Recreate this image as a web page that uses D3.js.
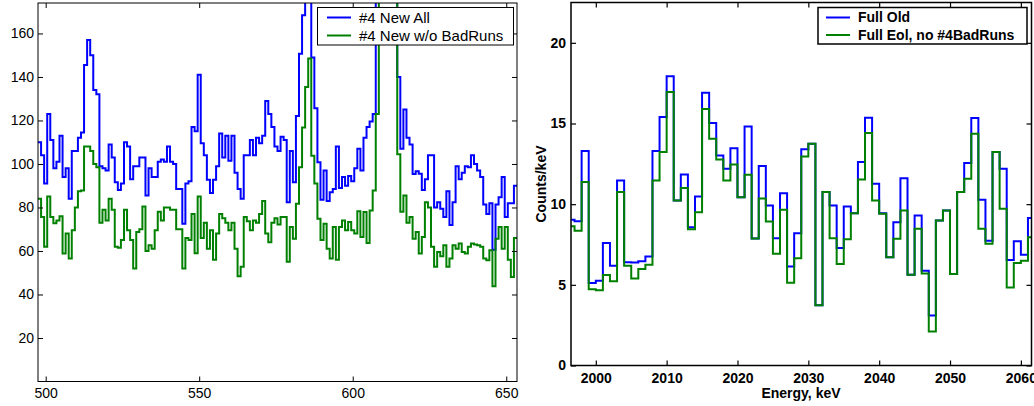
<!DOCTYPE html>
<html>
<head>
<meta charset="utf-8">
<script src="https://cdn.jsdelivr.net/npm/d3@7"></script>
<style>
  body { margin: 0; background: #fff; }
  svg { display: block; }
</style>
</head>
<body>
<svg id="chart" width="1034" height="406"></svg>
<script>
// ---- Left panel: 1 keV bins, first bin centred at 498 keV ----
const leftFirstCentre = 498;
const leftAll = [
  110, 104, 91, 123, 111, 98, 101, 113, 94, 98,
  84, 106, 106, 112, 114.5, 145.5, 157, 150, 134, 132,
  99, 98, 97, 109, 103, 91.6, 88, 91, 110, 108,
  93, 99, 99, 103, 103, 85.5, 98, 94, 94, 101,
  102, 101, 108, 101, 100, 88.5, 88.5, 72.5, 91, 92,
  117, 115, 141, 109.5, 104, 92.7, 86.6, 92.7, 99, 114,
  103, 113, 101.5, 113, 96, 88.5, 84, 104, 104, 111,
  104, 112, 109.5, 113, 129, 123, 117, 108, 106, 112.5,
  111, 82.4, 106, 91.6, 122, 150.7, 168.4, 205, 240, 149,
  125.6, 100.8, 83.5, 97, 83, 87, 88.5, 108, 89, 94,
  90, 94.5, 92, 98, 107, 97, 112, 117, 119.5, 123,
  190, 330, 480, 520, 430, 300, 210, 140, 107, 125,
  112, 109, 95.4, 96.6, 95.5, 88, 93, 104, 104, 80,
  82.4, 79.4, 75.6, 87.5, 72, 82.4, 99, 93, 96, 99,
  98.5, 104, 100, 97, 94, 81.4, 77, 81.9, 60.6, 81.4,
  84.7, 94, 75.6, 81.9, 81.9, 90
];
const leftNoBad = [
  84, 75.6, 62, 85, 75.6, 72.8, 74, 76, 58.8, 68,
  56.5, 69.5, 80, 87.5, 87.8, 108, 108, 106, 100, 98.5,
  73, 79, 74, 84, 79, 62, 61.5, 65, 79, 69.5,
  65, 52, 68.7, 70, 80.5, 60, 62.6, 61, 69.5, 78,
  74, 80, 80, 79, 79, 70, 70, 52, 66, 65,
  77, 59, 85, 66, 73, 61, 69.5, 56, 68, 77,
  75, 73, 69.5, 73, 61, 48.4, 52.7, 75.6, 73.7, 69.5,
  74, 73, 77, 83, 68, 64, 73, 75, 72.2, 75.6,
  75.6, 55, 71, 65.6, 81.7, 98.5, 116.8, 135.4, 148.5, 103.8,
  91, 74.8, 65, 72.5, 61, 56.5, 71, 56, 71, 74,
  69.5, 73.3, 69.5, 68, 78.3, 66.4, 77.9, 63.7, 78.6, 87.8,
  123, 260, 380, 410, 340, 240, 180, 104.5, 78, 85.5,
  73, 75.6, 65.6, 68.7, 58.8, 66.4, 82.4, 80, 62, 52.7,
  59.5, 57.6, 62.6, 52.7, 56.5, 62.6, 61, 63.4, 59.5, 58.8,
  62, 63.4, 63, 62.6, 62, 56.5, 55.7, 60.3, 43.8, 65.6,
  71, 61, 71, 56, 48, 66
];
const leftXTicks = [500, 550, 600, 650];
const leftYTicks = [20, 40, 60, 80, 100, 120, 140, 160];
const leftLegend = ["#4 New All", "#4 New w/o BadRuns"];

// ---- Right panel: 1 keV bins, first bin starts at 1996 keV ----
const rightFirstEdge = 1996;
const rightOld = [
  9.03, 8.94, 13.3, 5.11, 5.26, 7.6, 6.19, 11.47, 6.4, 6.38,
  6.46, 6.75, 13.29, 15.4, 17.93, 10.23, 11.84, 8.57, 10.48, 16.9,
  15.03, 13.02, 12.2, 13.46, 10.43, 14.82, 7.87, 12.36, 9.92, 7.89,
  10.68, 6.13, 8.2, 13.4, 13.75, 3.73, 10.75, 9.92, 7.29, 9.86,
  9.44, 12.61, 15.36, 11.26, 9.44, 6.71, 8.88, 11.61, 5.63, 9.3,
  5.88, 3.1, 8.99, 9.61, 5.67, 10.75, 12.55, 15.34, 10.27, 7.74,
  13.23, 12.19, 6.54, 7.7, 6.87, 9.15
];
const rightEol = [
  8.63, 8.36, 11.37, 4.72, 4.66, 5.61, 5.22, 10.75, 6.19, 5.4,
  5.98, 6.25, 11.47, 13.23, 16.96, 10.23, 11.0, 8.45, 9.5, 15.9,
  14.06, 12.77, 11.47, 12.46, 10.43, 11.82, 7.87, 10.35, 8.92, 6.92,
  9.65, 5.13, 6.65, 12.96, 13.75, 3.73, 10.75, 7.89, 6.29, 7.83,
  9.44, 11.53, 14.41, 10.23, 9.4, 6.71, 7.85, 9.61, 5.63, 8.47,
  5.71, 2.11, 8.99, 9.61, 5.67, 10.75, 11.57, 14.37, 8.47, 7.54,
  13.23, 9.71, 4.84, 6.36, 6.5, 7.95
];
const rightXTicks = [2000, 2010, 2020, 2030, 2040, 2050, 2060];
const rightYTicks = [0, 5, 10, 15, 20];
const rightLegend = ["Full Old", "Full Eol, no #4BadRuns"];

const seriesColors = ["#0000ff", "#008000"];
const FONT = "'Liberation Sans', Arial, Helvetica, sans-serif";

const svg = d3.select("#chart");
const defs = svg.append("defs");

function drawPanel(cfg) {
  const g = svg.append("g");
  const x = d3.scaleLinear().domain(cfg.xDomain).range([cfg.left, cfg.right]);
  const y = d3.scaleLinear().domain(cfg.yDomain).range([cfg.bottom, cfg.top]);

  defs.append("clipPath").attr("id", cfg.id + "-clip")
    .append("rect")
    .attr("x", cfg.left).attr("y", cfg.top)
    .attr("width", cfg.right - cfg.left).attr("height", cfg.bottom - cfg.top);

  // histogram outlines drawn as step lines
  const line = d3.line()
    .x(d => x(d[0]))
    .y(d => y(d[1]))
    .curve(d3.curveStepAfter);

  cfg.series.forEach((vals, i) => {
    const pts = vals.map((v, j) => [cfg.firstEdge + j, v]);
    pts.push([cfg.firstEdge + vals.length, vals[vals.length - 1]]);
    g.append("path")
      .attr("clip-path", `url(#${cfg.id}-clip)`)
      .attr("d", line(pts))
      .attr("fill", "none")
      .attr("stroke", seriesColors[i])
      .attr("stroke-width", cfg.lineWidth)
      .attr("stroke-linejoin", "miter");
  });

  const fmt = d3.format("d");
  const styleAxis = sel => {
    sel.select(".domain").remove();
    sel.selectAll(".tick line").attr("stroke", "#000").attr("stroke-width", cfg.tickWidth);
    sel.selectAll(".tick text")
      .attr("fill", "#000")
      .style("font-family", FONT)
      .style("font-size", cfg.fontSize + "px")
      .style("font-weight", cfg.bold ? "bold" : "normal");
  };

  g.append("g").attr("transform", `translate(0,${cfg.bottom})`)
    .call(d3.axisBottom(x).tickValues(cfg.xTicks).tickSizeInner(-cfg.tick)
      .tickSizeOuter(0).tickPadding(cfg.xPad).tickFormat(fmt))
    .call(styleAxis);
  g.append("g").attr("transform", `translate(0,${cfg.top})`)
    .call(d3.axisTop(x).tickValues(cfg.xTicks).tickSizeInner(-cfg.tick)
      .tickSizeOuter(0).tickFormat(""))
    .call(styleAxis);
  g.append("g").attr("transform", `translate(${cfg.left},0)`)
    .call(d3.axisLeft(y).tickValues(cfg.yTicks).tickSizeInner(-cfg.tick)
      .tickSizeOuter(0).tickPadding(cfg.yPad).tickFormat(fmt))
    .call(styleAxis);
  g.append("g").attr("transform", `translate(${cfg.right},0)`)
    .call(d3.axisRight(y).tickValues(cfg.yTicks).tickSizeInner(-cfg.tick)
      .tickSizeOuter(0).tickFormat(""))
    .call(styleAxis);

  // plot frame
  g.append("rect")
    .attr("x", cfg.left).attr("y", cfg.top)
    .attr("width", cfg.right - cfg.left).attr("height", cfg.bottom - cfg.top)
    .attr("fill", "none").attr("stroke", "#000").attr("stroke-width", cfg.frameWidth);

  // legend
  const L = cfg.legend;
  const lg = g.append("g");
  lg.append("rect")
    .attr("x", L.x).attr("y", L.y).attr("width", L.w).attr("height", L.h)
    .attr("fill", "#fff").attr("stroke", "#000").attr("stroke-width", L.border);
  L.labels.forEach((t, i) => {
    const ly = L.rowY[i];
    lg.append("line")
      .attr("x1", L.lineX0).attr("x2", L.lineX1)
      .attr("y1", ly).attr("y2", ly)
      .attr("stroke", seriesColors[i]).attr("stroke-width", cfg.lineWidth);
    lg.append("text")
      .attr("x", L.textX).attr("y", ly).attr("dy", "0.35em")
      .style("font-family", FONT)
      .style("font-size", L.fontSize + "px")
      .style("font-weight", cfg.bold ? "bold" : "normal")
      .attr("fill", "#000")
      .text(t);
  });
  return { g, x, y };
}

// left: peak region around 500-650
drawPanel({
  id: "left",
  left: 38, right: 517, top: 3, bottom: 381.5,
  xDomain: [497.5, 653.5], yDomain: [0, 174],
  firstEdge: leftFirstCentre - 0.5,
  series: [leftAll, leftNoBad],
  xTicks: leftXTicks, yTicks: leftYTicks,
  tick: 5, tickWidth: 1, xPad: 6.5, yPad: 4,
  fontSize: 14, bold: false, lineWidth: 2, frameWidth: 1,
  legend: {
    x: 317.5, y: 7.5, w: 196, h: 37.5, border: 1,
    lineX0: 327, lineX1: 351, textX: 359, rowY: [17.5, 35.5],
    fontSize: 15, labels: leftLegend
  }
});

// right: region around 2039 keV
const right = drawPanel({
  id: "right",
  left: 571, right: 1031.5, top: 2.5, bottom: 365.5,
  xDomain: [1996.5, 2061.5], yDomain: [0, 22.5],
  firstEdge: rightFirstEdge,
  series: [rightOld, rightEol],
  xTicks: rightXTicks, yTicks: rightYTicks,
  tick: 5, tickWidth: 1.2, xPad: 8, yPad: 5,
  fontSize: 14, bold: true, lineWidth: 2, frameWidth: 1.5,
  legend: {
    x: 818, y: 7.5, w: 209, h: 36.5, border: 1.5,
    lineX0: 826, lineX1: 850, textX: 858, rowY: [17.5, 35],
    fontSize: 14, labels: rightLegend
  }
});

right.g.append("text")
  .attr("x", 801).attr("y", 398)
  .attr("text-anchor", "middle")
  .style("font-family", FONT).style("font-size", "14px").style("font-weight", "bold")
  .text("Energy, keV");

right.g.append("text")
  .attr("transform", "translate(546,184) rotate(-90)")
  .attr("text-anchor", "middle")
  .style("font-family", FONT).style("font-size", "14px").style("font-weight", "bold")
  .text("Counts/keV");
</script>
</body>
</html>
